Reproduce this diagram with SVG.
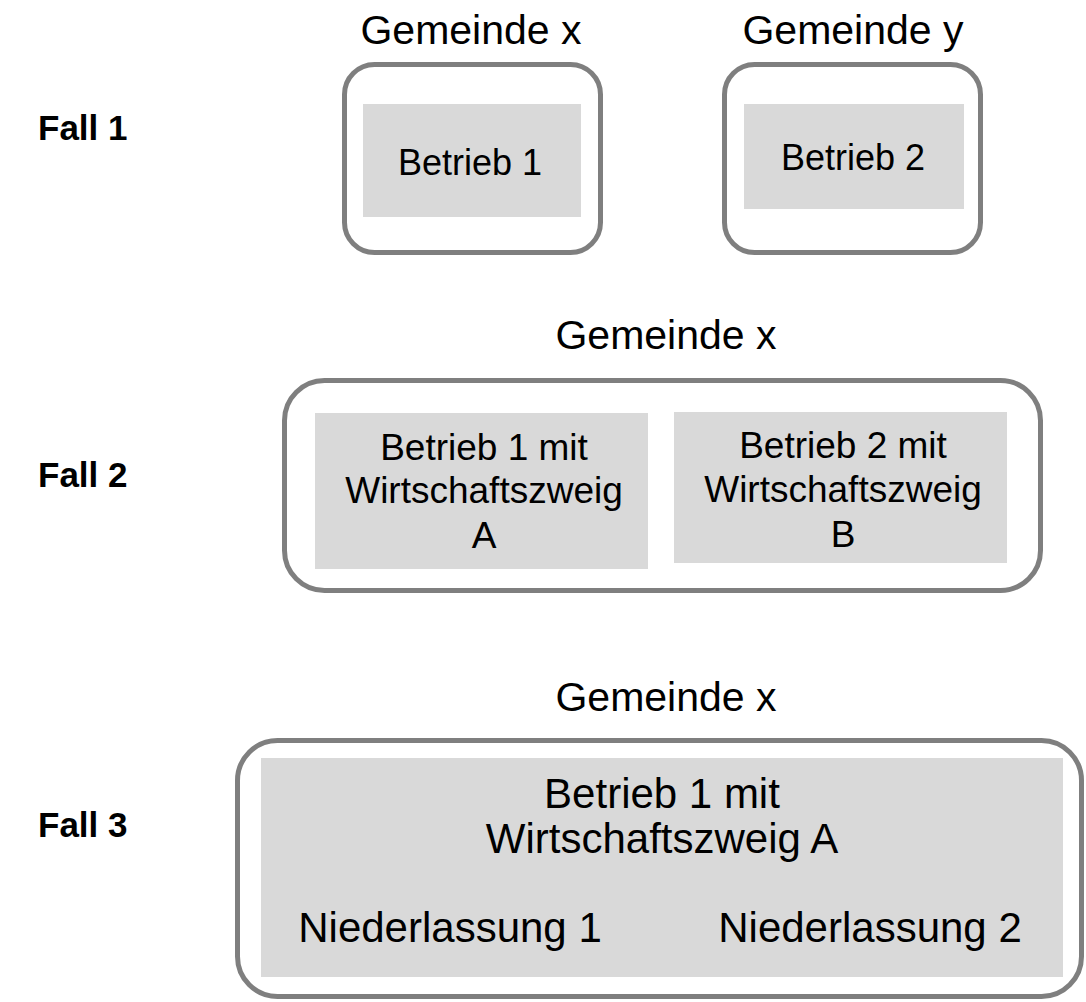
<svg xmlns="http://www.w3.org/2000/svg" width="1086" height="1002" viewBox="0 0 1086 1002">
  <style>
    .outer { fill: #ffffff; stroke: #7f7f7f; stroke-width: 5; }
    .inner { fill: #d9d9d9; stroke: none; }
    .t { font-family: "Liberation Sans", Arial, sans-serif; fill: #000000; text-anchor: middle; }
    .case { font-family: "Liberation Sans", Arial, sans-serif; font-weight: bold; font-size: 35px; fill: #000000; }
    .lbl { font-size: 41px; }
    .b36 { font-size: 36px; }
    .b37 { font-size: 37px; }
    .b42 { font-size: 42px; }
  </style>
  <rect width="1086" height="1002" fill="#ffffff"/>
  <g id="connectors"></g>

  <g id="fall1-label"><text class="case" x="38" y="140">Fall 1</text></g>
  <g id="fall2-label"><text class="case" x="38" y="487">Fall 2</text></g>
  <g id="fall3-label"><text class="case" x="38" y="837">Fall 3</text></g>

  <g id="fall1-gemeinde-x">
    <text class="t lbl" x="471" y="44">Gemeinde x</text>
    <rect class="outer" x="344.5" y="64.5" width="256" height="188" rx="30"/>
    <g id="fall1-betrieb1">
      <rect class="inner" x="363" y="104" width="218" height="113"/>
      <text class="t b36" x="470" y="175">Betrieb 1</text>
    </g>
  </g>

  <g id="fall1-gemeinde-y">
    <text class="t lbl" x="853" y="44">Gemeinde y</text>
    <rect class="outer" x="724.5" y="64.5" width="256" height="188" rx="30"/>
    <g id="fall1-betrieb2">
      <rect class="inner" x="744" y="104" width="220" height="105"/>
      <text class="t b36" x="853" y="170">Betrieb 2</text>
    </g>
  </g>

  <g id="fall2-gemeinde-x">
    <text class="t lbl" x="666" y="349">Gemeinde x</text>
    <rect class="outer" x="284.5" y="380.5" width="756" height="210" rx="40"/>
    <g id="fall2-betrieb1">
      <rect class="inner" x="315" y="413" width="333" height="156"/>
      <text class="t b37" x="484" y="460">Betrieb 1 mit</text>
      <text class="t b37" x="484" y="503">Wirtschaftszweig</text>
      <text class="t b37" x="484" y="548">A</text>
    </g>
    <g id="fall2-betrieb2">
      <rect class="inner" x="674" y="412" width="333" height="151"/>
      <text class="t b37" x="843" y="458">Betrieb 2 mit</text>
      <text class="t b37" x="843" y="502">Wirtschaftszweig</text>
      <text class="t b37" x="843" y="547">B</text>
    </g>
  </g>

  <g id="fall3-gemeinde-x">
    <text class="t lbl" x="666" y="711">Gemeinde x</text>
    <rect class="outer" x="237.5" y="740.5" width="844" height="256" rx="40"/>
    <g id="fall3-betrieb1">
      <rect class="inner" x="261" y="758" width="802" height="219"/>
      <text class="t b42" x="662" y="808">Betrieb 1 mit</text>
      <text class="t b42" x="662" y="853">Wirtschaftszweig A</text>
      <text class="t b42" x="450" y="942">Niederlassung 1</text>
      <text class="t b42" x="870" y="942">Niederlassung 2</text>
    </g>
  </g>
</svg>
